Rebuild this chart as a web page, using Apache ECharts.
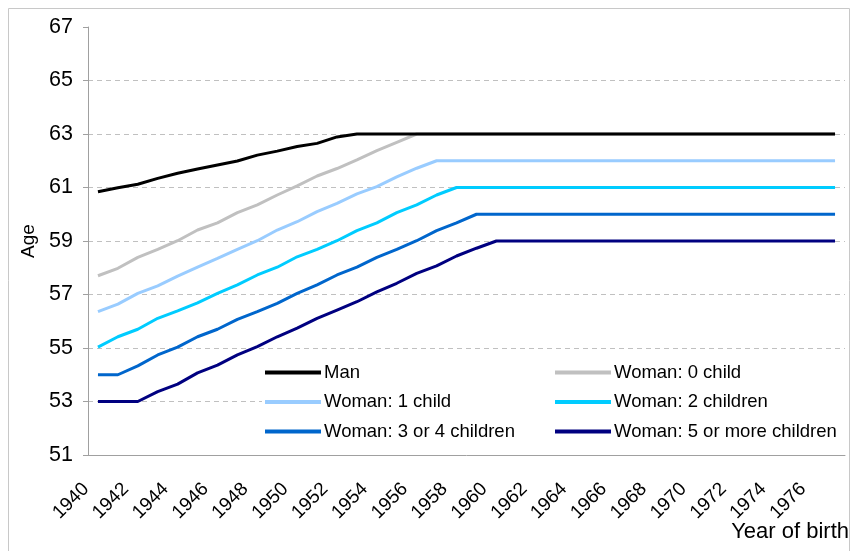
<!DOCTYPE html>
<html>
<head>
<meta charset="utf-8">
<script src="https://cdn.jsdelivr.net/npm/echarts@6/dist/echarts.min.js"></script>
<style>html,body{margin:0;padding:0;background:#fff}#c{width:852px;height:551px}</style>
</head>
<body>
<div id="c"></div>
<script>
const years = [];
for (let y = 1940; y <= 1977; y++) years.push(String(y));

const man = [60.84, 60.99, 61.12, 61.34, 61.53, 61.69, 61.84, 61.99, 62.21, 62.36, 62.53, 62.65, 62.89, 63,
  63, 63, 63, 63, 63, 63, 63, 63, 63, 63, 63, 63, 63, 63, 63, 63, 63, 63, 63, 63, 63, 63, 63, 63];
const woman0 = [57.70, 57.98, 58.39, 58.69, 59.01, 59.41, 59.68, 60.06, 60.35, 60.72, 61.06, 61.43, 61.71, 62.03, 62.38, 62.69, 63,
  63, 63, 63, 63, 63, 63, 63, 63, 63, 63, 63, 63, 63, 63, 63, 63, 63, 63, 63, 63, 63];
const woman1 = [56.36, 56.64, 57.04, 57.32, 57.69, 58.02, 58.35, 58.69, 59.01, 59.41, 59.72, 60.10, 60.41, 60.76, 61.03, 61.40, 61.72, 62,
  62, 62, 62, 62, 62, 62, 62, 62, 62, 62, 62, 62, 62, 62, 62, 62, 62, 62, 62, 62];
const woman2 = [55.03, 55.42, 55.70, 56.11, 56.39, 56.69, 57.04, 57.36, 57.73, 58.02, 58.41, 58.69, 59.01, 59.39, 59.68, 60.06, 60.35, 60.72, 61,
  61, 61, 61, 61, 61, 61, 61, 61, 61, 61, 61, 61, 61, 61, 61, 61, 61, 61, 61];
const woman34 = [54, 54, 54.33, 54.74, 55.03, 55.42, 55.70, 56.07, 56.36, 56.67, 57.04, 57.36, 57.73, 58.02, 58.39, 58.69, 59.01, 59.39, 59.68, 60,
  60, 60, 60, 60, 60, 60, 60, 60, 60, 60, 60, 60, 60, 60, 60, 60, 60, 60];
const woman5 = [53, 53, 53, 53.37, 53.65, 54.07, 54.36, 54.74, 55.05, 55.42, 55.74, 56.11, 56.42, 56.73, 57.10, 57.42, 57.79, 58.07, 58.44, 58.73, 59,
  59, 59, 59, 59, 59, 59, 59, 59, 59, 59, 59, 59, 59, 59, 59, 59, 59];

const seriesNames = ['Man', 'Woman: 0 child', 'Woman: 1 child', 'Woman: 2 children', 'Woman: 3 or 4 children', 'Woman: 5 or more children'];
const seriesData = [man, woman0, woman1, woman2, woman34, woman5];
const colors = ['#000000', '#C0C0C0', '#99CCFF', '#00CCFF', '#0066CC', '#000080'];

const FONT = 'Liberation Sans, Arial, sans-serif';
const chart = echarts.init(document.getElementById('c'), null, {renderer: 'canvas'});

const legendCommon = {
  orient: 'vertical',
  top: 363,
  padding: 0,
  icon: 'rect',
  itemWidth: 56,
  itemHeight: 4,
  itemGap: 10.5,
  textStyle: {fontFamily: FONT, fontSize: 18.5, color: '#000', lineHeight: 18, padding: [0, 0, 0, -2]},
  selectedMode: false,
  z: 10
};

chart.setOption({
  animation: false,
  backgroundColor: '#fff',
  color: colors,
  grid: {left: 88, right: 7, top: 27, bottom: 96, containLabel: false},
  legend: [
    Object.assign({}, legendCommon, {left: 265, data: [seriesNames[0], seriesNames[2], seriesNames[4]]}),
    Object.assign({}, legendCommon, {left: 555, data: [seriesNames[1], seriesNames[3], seriesNames[5]]})
  ],
  graphic: [
    {type: 'rect', z: 1, shape: {x: 262, y: 358, width: 583, height: 84}, style: {fill: '#fff'}},
    {type: 'rect', z: 0, shape: {x: 8.5, y: 8.5, width: 841, height: 545}, style: {fill: 'none', stroke: '#c8c8c8', lineWidth: 1}},
    {type: 'text', z: 5, right: 3, top: 521, style: {text: 'Year of birth', font: '22px ' + FONT, fill: '#000'}}
  ],
  xAxis: {
    type: 'category',
    data: years,
    boundaryGap: true,
    axisLine: {lineStyle: {color: '#a0a0a0', width: 1}},
    axisTick: {interval: 1, length: 5, lineStyle: {color: '#a0a0a0'}},
    axisLabel: {interval: 1, rotate: 45, margin: 19, padding: [0, 17, 0, 0], fontFamily: FONT, fontSize: 19, color: '#000'},
    splitLine: {show: false}
  },
  yAxis: {
    type: 'value',
    min: 51,
    max: 67,
    interval: 2,
    name: 'Age',
    nameLocation: 'middle',
    nameRotate: 90,
    nameGap: 50,
    nameTextStyle: {fontFamily: FONT, fontSize: 19, color: '#000'},
    axisLine: {show: true, lineStyle: {color: '#a0a0a0', width: 1}},
    axisTick: {show: true, length: 5, lineStyle: {color: '#a0a0a0'}},
    axisLabel: {margin: 15, fontFamily: FONT, fontSize: 21.5, color: '#000'},
    splitLine: {show: true, showMaxLine: false, showMinLine: false, lineStyle: {color: '#c0c0c0', type: [5, 4], width: 1}}
  },
  series: seriesNames.map((n, i) => ({
    name: n,
    type: 'line',
    data: seriesData[i],
    symbol: 'none',
    lineStyle: {width: 3, color: colors[i]},
    itemStyle: {color: colors[i]},
    z: 2 + (5 - i) * 0.1
  }))
});
</script>
</body>
</html>
